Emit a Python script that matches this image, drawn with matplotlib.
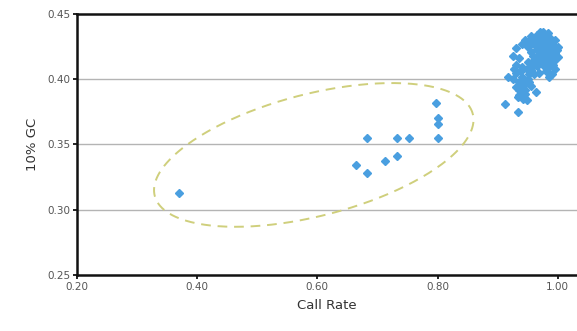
import numpy as np
import matplotlib
matplotlib.use("Agg")
import matplotlib.pyplot as plt

# outlier samples (low call rate)
low_x = [0.370, 0.665, 0.683, 0.683, 0.712, 0.733, 0.733, 0.753, 0.798, 0.800, 0.800, 0.800]
low_y = [0.313, 0.334, 0.328, 0.355, 0.337, 0.341, 0.355, 0.355, 0.382, 0.370, 0.366, 0.355]

# main cluster (high call rate)
hi_x = [0.955, 0.965, 0.975, 0.985, 0.995, 0.960, 0.970, 0.980, 0.990, 1.000,
        0.950, 0.940, 0.930, 0.955, 0.965, 0.975, 0.985, 0.995, 1.000, 0.970,
        0.980, 0.990, 0.960, 0.950, 0.935, 0.925, 0.930, 0.940, 0.985, 0.995,
        0.975, 0.965, 0.955, 0.930, 0.940, 0.935, 0.945, 0.930, 0.940, 0.950,
        0.955, 0.935, 0.945, 0.925, 0.917, 0.913, 0.933, 0.933, 0.963, 0.985,
        0.990, 0.960, 0.948, 0.945, 0.975, 0.990,
        0.968, 0.978, 0.988, 0.958, 0.972, 0.982, 0.992, 0.962, 0.952, 0.968,
        0.978, 0.988, 0.998, 0.958, 0.972, 0.982, 0.992, 0.962, 0.948, 0.938,
        0.942, 0.952, 0.938, 0.928, 0.946, 0.936, 0.942, 0.952, 0.958, 0.968,
        0.980, 0.994, 0.970, 0.984]
hi_y = [0.433, 0.434, 0.433, 0.432, 0.430, 0.428, 0.429, 0.428, 0.427, 0.425,
        0.425, 0.427, 0.424, 0.421, 0.423, 0.422, 0.421, 0.420, 0.417, 0.417,
        0.416, 0.414, 0.415, 0.413, 0.416, 0.418, 0.411, 0.409, 0.409, 0.408,
        0.411, 0.410, 0.407, 0.405, 0.402, 0.398, 0.396, 0.394, 0.392, 0.400,
        0.395, 0.388, 0.389, 0.400, 0.402, 0.381, 0.375, 0.386, 0.390, 0.402,
        0.404, 0.404, 0.384, 0.430, 0.436, 0.418,
        0.431, 0.431, 0.430, 0.431, 0.425, 0.425, 0.424, 0.426, 0.429, 0.419,
        0.419, 0.418, 0.422, 0.418, 0.413, 0.413, 0.411, 0.412, 0.408, 0.406,
        0.400, 0.404, 0.396, 0.408, 0.392, 0.392, 0.385, 0.398, 0.410, 0.405,
        0.406, 0.414, 0.436, 0.435]

x_ticks = [0.20, 0.40, 0.60, 0.80, 1.00]
y_ticks = [0.25, 0.30, 0.35, 0.40, 0.45]

# dashed ellipse around the outliers: centre + two conjugate semi-axis vectors (data units)
ell_c = (0.594, 0.342)
ell_u = (0.2646, 0.0314)
ell_v = (-0.0252, 0.0452)

BLUE = "#4a9fe0"
ELL_C = "#cfcf7c"

fig = plt.figure(figsize=(5.77, 3.31), dpi=100)
ax = fig.add_axes([0.1334, 0.169, 0.8666, 0.789])

for yv in [0.30, 0.35, 0.40]:
    ax.axhline(yv, color="#b4b4b4", lw=1.0, zorder=0)

t = np.linspace(0, 2 * np.pi, 300)
ax.plot(ell_c[0] + ell_u[0] * np.cos(t) + ell_v[0] * np.sin(t),
        ell_c[1] + ell_u[1] * np.cos(t) + ell_v[1] * np.sin(t),
        color=ELL_C, lw=1.4, ls=(0, (5, 3.5)), zorder=1)

ax.plot(low_x, low_y, ls="none", marker="D", ms=3.6, color=BLUE, mec=BLUE, zorder=3)
ax.plot(hi_x, hi_y, ls="none", marker="D", ms=4.4, color=BLUE, mec=BLUE, zorder=3)

ax.set_xlim(0.2, 1.032)
ax.set_ylim(0.25, 0.45)
ax.set_xticks(x_ticks)
ax.set_xticklabels([f"{v:.2f}" for v in x_ticks])
ax.set_yticks(y_ticks)
ax.set_yticklabels([f"{v:.2f}" for v in y_ticks])
ax.tick_params(direction="out", length=3, width=1.2, labelsize=7.5, labelcolor="#555555", pad=2)

for s in ["left", "bottom", "top"]:
    ax.spines[s].set_linewidth(1.8)
    ax.spines[s].set_color("#111111")
ax.spines["right"].set_visible(False)

ax.set_xlabel("Call Rate", fontsize=9.5, color="#333333", labelpad=5)
ax.set_ylabel("10% GC", fontsize=9.5, color="#333333", labelpad=6)

fig.savefig("out.png", dpi=100)
